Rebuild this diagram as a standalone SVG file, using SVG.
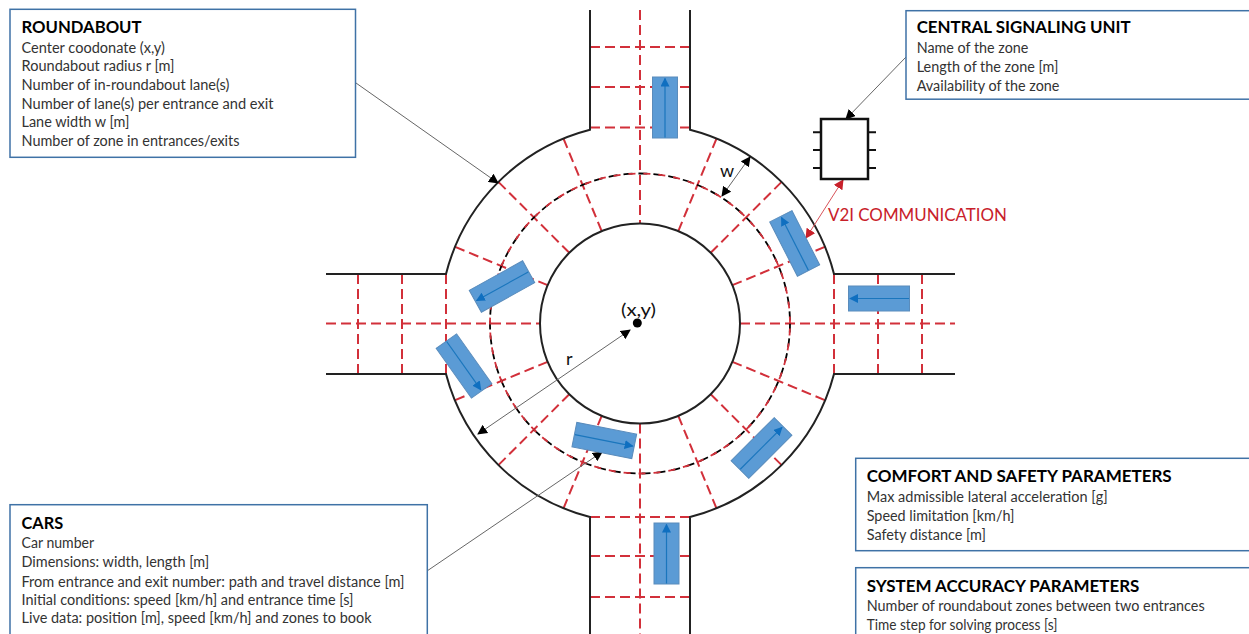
<svg xmlns="http://www.w3.org/2000/svg" width="1249" height="634" viewBox="0 0 1249 634">
<style>
text{font-family:"Lato","Open Sans","Liberation Sans",sans-serif;fill:#333;font-size:14.6px}
.h{font-size:17px;font-weight:700;fill:#000}
.panel{fill:#fff;stroke:#3f72a6;stroke-width:1.5}
.road{fill:none;stroke:#222;stroke-width:2}
.zone{fill:none;stroke:#d2303a;stroke-width:2;stroke-dasharray:10 5}
.lead{fill:none;stroke:#666;stroke-width:1}
.car{fill:#5b9bd5;stroke:#5a8cbc;stroke-width:1}
.carline{stroke:#1a76bd;stroke-width:1.2;fill:none}
</style>
<defs>
<marker id="ab" viewBox="0 0 10 10" refX="9" refY="5" markerWidth="10" markerHeight="10" markerUnits="userSpaceOnUse" orient="auto-start-reverse"><path d="M0 0L10 5L0 10Z" fill="#000"/></marker>
<marker id="ar" viewBox="0 0 10 10" refX="9" refY="5" markerWidth="10" markerHeight="10" markerUnits="userSpaceOnUse" orient="auto-start-reverse"><path d="M0 0L10 5L0 10Z" fill="#c8202a"/></marker>
<marker id="ac" viewBox="0 0 10 10" refX="9" refY="5" markerWidth="9" markerHeight="9" markerUnits="userSpaceOnUse" orient="auto"><path d="M0 0L10 5L0 10Z" fill="#0f6fc0"/></marker>
<g id="carshape"><rect class="car" x="-30.5" y="-12.5" width="61" height="25"/><line class="carline" x1="-30" y1="0" x2="29" y2="0" marker-end="url(#ac)"/></g>
</defs>

<g id="roundabout-road">
<g id="zones">
<path class="zone" d="M590 47H690M590 87H690M590 127.500H690M640 10V223"/>
<path class="zone" d="M590 517H690M590 556H690M590 597H690M640 423.500V634"/>
<path class="zone" d="M326 323.500H540M358 274V374M402 274V374M446 274V374"/>
<path class="zone" d="M740 323.500H955M834 274V374M878 274V374M922 274V374"/>
<path class="zone" d="M678.300 231.100L716.500 138.700M710.700 252.800L781.400 182.100M732.400 285.200L824.800 246.900"/>
<path class="zone" d="M732.400 361.800L824.800 400.100M710.700 394.200L781.400 464.900M678.300 415.900L716.500 508.300"/>
<path class="zone" d="M601.700 415.900L563.500 508.300M569.300 394.200L498.600 464.900M547.600 361.800L455.200 400.100"/>
<path class="zone" d="M547.600 285.200L455.200 246.900M569.300 252.800L498.600 182.100M601.700 231.100L563.500 138.700"/>
</g>
<circle cx="640" cy="323.500" r="150" fill="none" stroke="#000" stroke-width="1.800" stroke-dasharray="9 6"/>
<circle cx="640" cy="323.500" r="150" fill="none" stroke="#d2303a" stroke-width="1.800" stroke-dasharray="7 8" stroke-dashoffset="10"/>
<circle cx="640" cy="323.500" r="100" fill="none" stroke="#222" stroke-width="2"/>
<path class="road" d="M590 10V129.700A200 200 0 0 0 446 274H326M326 374H446A200 200 0 0 0 590 517V634M690 634V517A200 200 0 0 0 834 374H955M955 274H834A200 200 0 0 0 690 129.700V10"/>
</g>

<g id="connectors">
<line class="lead" x1="356" y1="83" x2="498" y2="183" marker-end="url(#ab)"/>
<line class="lead" x1="906" y1="57" x2="846" y2="119" marker-end="url(#ab)"/>
<line class="lead" x1="427" y1="571" x2="602" y2="452" marker-end="url(#ab)"/>
<line class="lead" x1="750" y1="157" x2="722" y2="196" marker-start="url(#ab)" marker-end="url(#ab)"/>
<line class="lead" x1="630" y1="330" x2="478" y2="434" marker-start="url(#ab)" marker-end="url(#ab)"/>
<line x1="843" y1="180" x2="806" y2="238" stroke="#d8535a" stroke-width="1" marker-start="url(#ar)" marker-end="url(#ar)"/>
</g>

<g id="cars">
<use href="#carshape" transform="translate(665 107.500) rotate(-90)"/>
<use href="#carshape" transform="translate(879 298.500) rotate(180)"/>
<use href="#carshape" transform="translate(666.500 553.500) rotate(-90)"/>
<use href="#carshape" transform="translate(794.700 243.400) rotate(-117)"/>
<use href="#carshape" transform="translate(502 286.500) rotate(151)"/>
<use href="#carshape" transform="translate(464 366) rotate(54.700)"/>
<use href="#carshape" transform="translate(604.300 440.500) rotate(11.200)"/>
<use href="#carshape" transform="translate(761.500 448) rotate(-45)"/>
</g>

<g id="signal-unit">
<path d="M813 132.300H821M813 150H821M813 168H821M868 132.300H876M868 150H876M868 168H876" stroke="#111" stroke-width="2" fill="none"/>
<rect x="821" y="119" width="47" height="60" fill="#fff" stroke="#111" stroke-width="2.500"/>
</g>

<g id="labels">
<text x="621" y="316" style="font-size:18px;fill:#111" textLength="35" lengthAdjust="spacingAndGlyphs">(x,y)</text>
<circle cx="637.300" cy="323" r="4.500" fill="#000"/>
<text x="566" y="365" style="font-size:18px;fill:#111">r</text>
<text x="720" y="177" style="font-size:18px;fill:#111">w</text>
<text x="828" y="221" style="font-size:17px;fill:#c8202a" textLength="179" lengthAdjust="spacingAndGlyphs">V2I COMMUNICATION</text>
</g>

<g id="panel-roundabout">
<rect class="panel" x="10" y="9.300" width="345.500" height="148"/>
<text class="h" x="21.500" y="32.700" textLength="120" lengthAdjust="spacingAndGlyphs">ROUNDABOUT</text>
<text x="21.500" y="52.700" textLength="143.300" lengthAdjust="spacingAndGlyphs">Center coodonate (x,y)</text>
<text x="21.500" y="71" textLength="153" lengthAdjust="spacingAndGlyphs">Roundabout radius r [m]</text>
<text x="21.500" y="90" textLength="208" lengthAdjust="spacingAndGlyphs">Number of in-roundabout lane(s)</text>
<text x="21.500" y="108.700" textLength="252" lengthAdjust="spacingAndGlyphs">Number of lane(s) per entrance and exit</text>
<text x="21.500" y="127.300" textLength="108" lengthAdjust="spacingAndGlyphs">Lane width w [m]</text>
<text x="21.500" y="145.700" textLength="218" lengthAdjust="spacingAndGlyphs">Number of zone in entrances/exits</text>
</g>
<g id="panel-central">
<rect class="panel" x="906" y="10.700" width="350" height="88.500"/>
<text class="h" x="916.700" y="33.300" textLength="214" lengthAdjust="spacingAndGlyphs">CENTRAL SIGNALING UNIT</text>
<text x="916.700" y="53.300" textLength="111.700" lengthAdjust="spacingAndGlyphs">Name of the zone</text>
<text x="916.700" y="72.300" textLength="141.700" lengthAdjust="spacingAndGlyphs">Length of the zone [m]</text>
<text x="916.700" y="90.700" textLength="142.700" lengthAdjust="spacingAndGlyphs">Availability of the zone</text>
</g>
<g id="panel-comfort">
<rect class="panel" x="855.700" y="458.300" width="400" height="92.400"/>
<text class="h" x="866.700" y="481.700" textLength="305" lengthAdjust="spacingAndGlyphs">COMFORT AND SAFETY PARAMETERS</text>
<text x="866.700" y="502.300" textLength="241" lengthAdjust="spacingAndGlyphs">Max admissible lateral acceleration [g]</text>
<text x="866.700" y="521" textLength="147.700" lengthAdjust="spacingAndGlyphs">Speed limitation [km/h]</text>
<text x="866.700" y="540" textLength="119.300" lengthAdjust="spacingAndGlyphs">Safety distance [m]</text>
</g>
<g id="panel-system">
<rect class="panel" x="855.700" y="567.700" width="400" height="80"/>
<text class="h" x="866.700" y="591.500" textLength="272.700" lengthAdjust="spacingAndGlyphs">SYSTEM ACCURACY PARAMETERS</text>
<text x="866.700" y="611.300" textLength="338" lengthAdjust="spacingAndGlyphs">Number of roundabout zones between two entrances</text>
<text x="866.700" y="630.300" textLength="190.700" lengthAdjust="spacingAndGlyphs">Time step for solving process [s]</text>
</g>
<g id="panel-cars">
<rect class="panel" x="10" y="504.700" width="417.300" height="144"/>
<text class="h" x="21.500" y="528.500" textLength="41.700" lengthAdjust="spacingAndGlyphs">CARS</text>
<text x="21.500" y="548.300" textLength="72.700" lengthAdjust="spacingAndGlyphs">Car number</text>
<text x="21.500" y="567" textLength="187.700" lengthAdjust="spacingAndGlyphs">Dimensions: width, length [m]</text>
<text x="21.500" y="586.500" textLength="383" lengthAdjust="spacingAndGlyphs">From entrance and exit number: path and travel distance [m]</text>
<text x="21.500" y="605.300" textLength="332" lengthAdjust="spacingAndGlyphs">Initial conditions: speed [km/h] and entrance time [s]</text>
<text x="21.500" y="623.300" textLength="350" lengthAdjust="spacingAndGlyphs">Live data: position [m], speed [km/h] and zones to book</text>
</g>
</svg>
